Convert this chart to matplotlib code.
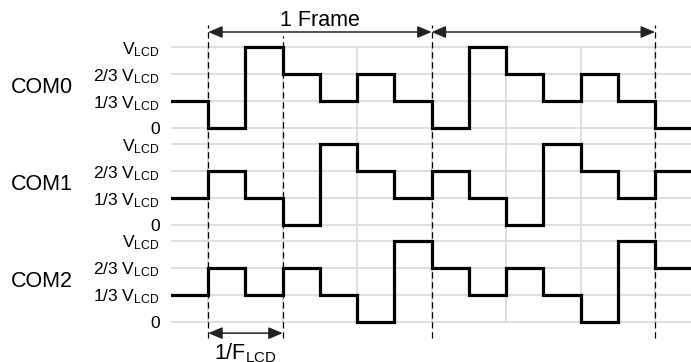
import numpy as np
import matplotlib
matplotlib.use('Agg')
import matplotlib.pyplot as plt

plt.rcParams['font.family'] = 'Liberation Sans'
plt.rcParams['mathtext.fontset'] = 'custom'
plt.rcParams['mathtext.rm'] = 'Liberation Sans'
plt.rcParams['mathtext.it'] = 'Liberation Sans'

# waveform levels (in thirds of V_LCD) per time slot, t = -1 .. 12
t = np.arange(-1, 14)
com0 = [1, 0, 3, 2, 1, 2, 1, 0, 3, 2, 1, 2, 1, 0]
com1 = [1, 2, 1, 0, 3, 2, 1, 2, 1, 0, 3, 2, 1, 2]
com2 = [1, 2, 1, 2, 1, 0, 3, 2, 1, 2, 1, 0, 3, 2]
names = ['COM0', 'COM1', 'COM2']
bases = [7.16, 3.58, 0.0]
level_labels = ['0', r'1/3 V$_\mathregular{LCD}$', r'2/3 V$_\mathregular{LCD}$',
                r'V$_\mathregular{LCD}$']
frame_marks = [0, 6, 12]
grid_x = [0, 2, 4, 6, 8, 10, 12]

fig = plt.figure(figsize=(6.91, 3.62), dpi=100)
ax = fig.add_axes([171 / 691, 0, 1 - 171 / 691, 1])
ax.set_xlim(-1, 12.966)
ax.set_ylim(-1.489, 11.915)
for s in ax.spines.values():
    s.set_visible(False)

# horizontal grid + tick labels
yt, yl = [], []
for b in bases:
    for k in range(4):
        yt.append(b + k)
        yl.append(level_labels[k])
ax.set_yticks(yt)
ax.set_yticklabels(yl, fontsize=12.5)
ax.tick_params(axis='y', length=0, pad=8)
ax.set_xticks([])
for y in yt:
    ax.axhline(y, color='#d9d9d9', lw=1.2, zorder=1)
ax.vlines(grid_x, 0, bases[0] + 3, color='#d9d9d9', lw=1.2, zorder=1)

# waveforms
for name, wave, b in zip(names, [com0, com1, com2], bases):
    vals = np.array(wave + [wave[-1]]) + b
    ax.plot(t, vals, drawstyle='steps-post', color='black', lw=2.3,
            solid_joinstyle='miter', zorder=3)
    ax.text(-5.29, b + 1.5, name, fontsize=15.5, ha='left', va='center',
            clip_on=False)

# dashed markers
ax.vlines([0, 6, 12], -0.6, 10.99, color='black', lw=0.9,
          linestyles=(0, (5, 3)), zorder=2)
ax.vlines([2], -0.6, 10.58, color='black', lw=0.9,
          linestyles=(0, (5, 3)), zorder=2)

# frame arrows
arrow = dict(arrowstyle='<|-|>,head_length=0.85,head_width=0.36',
             color='#222222', lw=1.1, shrinkA=0, shrinkB=0, mutation_scale=10)
for a, b in zip(frame_marks[:-1], frame_marks[1:]):
    ax.annotate('', xy=(a, 10.73), xytext=(b, 10.73), arrowprops=arrow)
ax.text(3, 11.14, '1 Frame', fontsize=15.5, ha='center', va='center')

ax.annotate('', xy=(0, -0.42), xytext=(2, -0.42), arrowprops=arrow)
ax.text(1, -0.72, r'1/F$_\mathregular{LCD}$', fontsize=15.5, ha='center', va='top')

fig.savefig('out.png', dpi=100)
